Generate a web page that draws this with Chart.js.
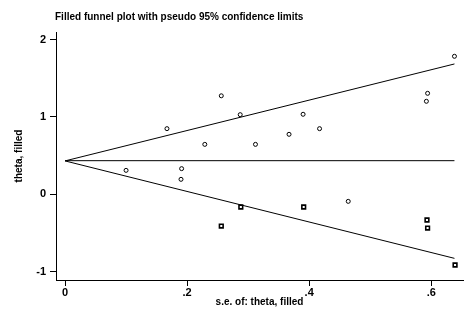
<!DOCTYPE html>
<html>
<head>
<meta charset="utf-8">
<script src="https://cdn.jsdelivr.net/npm/chart.js@4.4.0/dist/chart.umd.min.js"></script>
<style>
  html, body { margin: 0; padding: 0; background: #fff; }
  #funnel { display: block; }
</style>
</head>
<body>
<canvas id="funnel" width="475" height="316"></canvas>
<script>
const chartTitle = "Filled funnel plot with pseudo 95% confidence limits";

// observed studies (circles)
const observedSe = [0.100, 0.167, 0.191, 0.190, 0.229, 0.256, 0.287, 0.312, 0.367, 0.390, 0.417, 0.464, 0.592, 0.594, 0.638];
const observedTheta = [0.308, 0.847, 0.330, 0.192, 0.644, 1.272, 1.028, 0.644, 0.774, 1.033, 0.847, -0.093, 1.201, 1.304, 1.783];

// filled (imputed) studies (squares)
const filledSe = [0.256, 0.288, 0.391, 0.593, 0.594, 0.639];
const filledTheta = [-0.412, -0.166, -0.166, -0.334, -0.438, -0.916];

// pseudo 95% limits and pooled estimate
const limitSe = [0, 0.638];
const upperLimit = [0.43, 1.684];
const lowerLimit = [0.43, -0.83];
const pooledTheta = [0.433, 0.433];

const xTicks = [0, 0.2, 0.4, 0.6];
const xTickLabels = ["0", ".2", ".4", ".6"];
const yTicks = [-1, 0, 1, 2];
const yTickLabels = ["-1", "0", "1", "2"];

const toPoints = (xs, ys) => xs.map((x, i) => ({ x: x, y: ys[i] }));

const lineSet = (ys) => ({
  data: toPoints(limitSe, ys),
  showLine: true,
  borderColor: "#000",
  borderWidth: 1,
  pointRadius: 0,
  fill: false
});

// title drawn from the chart area's left edge, like Stata does
const titlePlugin = {
  id: "stataTitle",
  afterDraw(chart) {
    const ctx = chart.ctx;
    ctx.save();
    ctx.fillStyle = "#000";
    ctx.font = "bold 10px 'Liberation Sans', Arial, sans-serif";
    ctx.textBaseline = "middle";
    ctx.fillText(chartTitle, chart.chartArea.left - 1, 17);
    ctx.restore();
  }
};

const tickFont = { family: "'Liberation Sans', Arial, sans-serif", size: 11, weight: "bold" };
const titleFont = { family: "'Liberation Sans', Arial, sans-serif", size: 10, weight: "bold" };

new Chart(document.getElementById("funnel").getContext("2d"), {
  type: "scatter",
  data: {
    datasets: [
      lineSet(upperLimit),
      lineSet(lowerLimit),
      lineSet(pooledTheta),
      {
        data: toPoints(observedSe, observedTheta),
        pointStyle: "circle",
        pointRadius: 2,
        borderWidth: 1,
        borderColor: "#000",
        backgroundColor: "#fff"
      },
      {
        data: toPoints(filledSe, filledTheta),
        pointStyle: "rect",
        pointRadius: 2.6,
        borderWidth: 1.6,
        borderColor: "#000",
        backgroundColor: "#fff"
      }
    ]
  },
  options: {
    responsive: false,
    animation: false,
    layout: { padding: { top: 32, right: 12, left: 0, bottom: 0 } },
    plugins: {
      legend: { display: false },
      tooltip: { enabled: false }
    },
    scales: {
      x: {
        type: "linear",
        min: -0.0148,
        max: 0.652,
        afterBuildTicks: (s) => { s.ticks = xTicks.map(v => ({ value: v })); },
        afterFit: (s) => { s.height = 36; },
        ticks: {
          color: "#000",
          font: tickFont,
          padding: 0,
          maxRotation: 0,
          callback: (v) => xTickLabels[xTicks.indexOf(v)]
        },
        grid: { drawOnChartArea: false, drawTicks: true, tickLength: 6, color: "#000", lineWidth: 1 },
        border: { display: true, color: "#000", width: 1 },
        title: { display: true, text: "s.e. of: theta, filled", color: "#000", font: titleFont, padding: { top: 0, bottom: 8 } }
      },
      y: {
        type: "linear",
        min: -1.11,
        max: 2.097,
        afterBuildTicks: (s) => { s.ticks = yTicks.map(v => ({ value: v })); },
        afterFit: (s) => { s.width = 56; },
        ticks: {
          color: "#000",
          font: tickFont,
          padding: 4,
          callback: (v) => yTickLabels[yTicks.indexOf(v)]
        },
        grid: { drawOnChartArea: false, drawTicks: true, tickLength: 6, color: "#000", lineWidth: 1 },
        border: { display: true, color: "#000", width: 1 },
        title: { display: true, text: "theta, filled", color: "#000", font: titleFont, padding: { top: 13, bottom: 0 } }
      }
    }
  },
  plugins: [titlePlugin]
});
</script>
</body>
</html>
